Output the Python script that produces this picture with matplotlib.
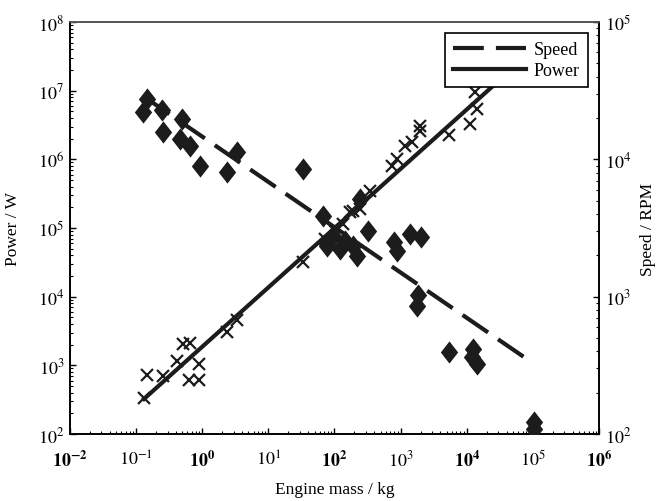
import numpy as np
import matplotlib
matplotlib.use('Agg')
import matplotlib.pyplot as plt
from matplotlib.ticker import LogLocator, NullFormatter
from matplotlib.lines import Line2D

plt.rcParams['font.family'] = ['Liberation Serif', 'DejaVu Serif']
plt.rcParams['mathtext.fontset'] = 'stix'
plt.rcParams['font.size'] = 12

# engine data
powerMass = [0.132, 0.145, 0.252, 0.411, 0.507, 0.653, 0.904, 0.638, 0.904, 2.40, 3.33,
             33.5, 72, 102, 135, 172, 189, 244, 346, 736, 875, 1170, 1480, 1970, 1970,
             5470, 11300, 14200, 13400]
powerW = [334, 722, 700, 1160, 2050, 2110, 1040, 611, 611, 3060, 4570,
          32000, 69000, 90000, 114000, 171000, 177000, 189000, 346000, 807000, 1.01e6,
          1.58e6, 1.77e6, 2.61e6, 3.09e6, 2.26e6, 3.27e6, 5.41e6, 9.46e6]

speedMass = [0.127, 0.146, 0.247, 0.255, 0.494, 0.461, 0.653, 0.927, 2.37, 3.36, 33.5,
             67.3, 77.3, 95.3, 122, 145, 191, 220, 244, 322, 798, 885, 1390, 2040,
             1840, 1780, 5420, 12500, 12100, 14400, 105000, 105000]
speedRPM = [22100, 27500, 22900, 15900, 19700, 14100, 12500, 8960, 8090, 11300, 8510,
            3870, 2340, 2770, 2220, 2550, 2340, 1980, 5150, 3010, 2500, 2150, 2860, 2720,
            1030, 855, 395, 416, 364, 324, 122, 109]

# fitted trend lines: value = coef * mass ** expo
powerCoef, powerExpo = 1860.0, 0.864
speedCoef, speedExpo = 14650.0, -0.33
fitRange = [0.132, 82000]

xTickExp = list(range(-2, 7))
leftTickExp = list(range(2, 9))
rightTickExp = list(range(2, 6))

ink = '#1c1c1c'

fig = plt.figure(figsize=(6.59, 5.02), dpi=100)
ax = fig.add_axes([0.106, 0.1335, 0.803, 0.8207])
ax2 = ax.twinx()

m = np.logspace(np.log10(fitRange[0]), np.log10(fitRange[1]), 200)

ax.plot(powerMass, powerW, linestyle='none', marker='x', markersize=8,
        markeredgewidth=1.6, color=ink, zorder=3)
ax.plot(m, powerCoef * m ** powerExpo, '-', color=ink, linewidth=3, zorder=2)

diamond = [(0, 1), (0.78, 0), (0, -1), (-0.78, 0), (0, 1)]
ax2.plot(speedMass, speedRPM, linestyle='none', marker=diamond, markersize=16,
         color=ink, markeredgewidth=0, zorder=3)
ax2.plot(m, speedCoef * m ** speedExpo, linestyle=(0, (7.4, 2.9)), color=ink,
         linewidth=3, zorder=2)

ax.set_xscale('log')
ax.set_yscale('log')
ax2.set_yscale('log')
ax.set_xlim(1e-2, 1e6)
ax.set_ylim(1e2, 1e8)
ax2.set_ylim(1e2, 1e5)

xLabels = [r'$\mathbf{10^{%d}}$' % e if e % 2 == 0 else r'$10^{%d}$' % e for e in xTickExp]
ax.set_xticks([10.0 ** e for e in xTickExp], xLabels)
ax.set_yticks([10.0 ** e for e in leftTickExp], [r'$10^{%d}$' % e for e in leftTickExp])
ax2.set_yticks([10.0 ** e for e in rightTickExp], [r'$10^{%d}$' % e for e in rightTickExp])

for a in (ax, ax2):
    for axis in ([a.xaxis, a.yaxis] if a is ax else [a.yaxis]):
        axis.set_minor_locator(LogLocator(base=10, subs=np.arange(2, 10), numticks=100))
        axis.set_minor_formatter(NullFormatter())
    a.tick_params(which='major', direction='in', length=4, width=1, labelsize=13)
    a.tick_params(which='minor', direction='in', length=2, width=0.8)
ax.tick_params(axis='y', right=False, pad=4)
ax2.tick_params(axis='y', pad=4)
ax.tick_params(axis='x', top=False, pad=11)
for a in (ax, ax2):
    for s in a.spines.values():
        s.set_linewidth(1.2)
        s.set_color('black')
    a.spines['top'].set_color('#555555')

ax.set_xlabel('Engine mass / kg', fontsize=12.5)
ax.set_ylabel('Power / W', fontsize=12.5)
ax2.set_ylabel('Speed / RPM', fontsize=12.5)
ax.xaxis.set_label_coords(0.5, -0.114)
ax.yaxis.set_label_coords(-0.092, 0.5)
ax2.yaxis.set_label_coords(1.078, 0.5)

handles = [Line2D([], [], color=ink, linewidth=3, linestyle=(0, (7.4, 2.9))),
           Line2D([], [], color=ink, linewidth=3)]
leg = ax2.legend(handles, ['Speed', 'Power'], loc='upper right', fancybox=False,
                 edgecolor='black', framealpha=1, handlelength=4.0, handletextpad=0.45,
                 borderaxespad=0.62, borderpad=0.45, fontsize=13, labelspacing=0.2)
leg.get_frame().set_linewidth(1.2)

fig.savefig('out.png', dpi=100)
